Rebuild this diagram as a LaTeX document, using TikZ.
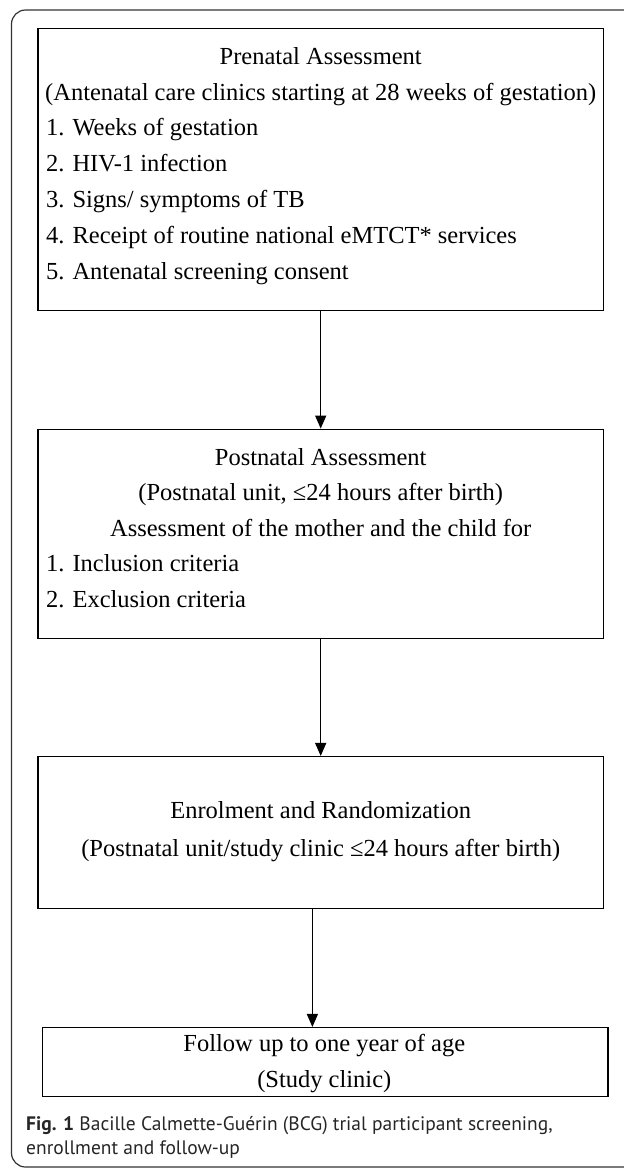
\documentclass[tikz,border=0pt]{standalone}
\usepackage{fontspec}
\setmainfont{Liberation Serif}
\newfontfamily\capfont{PT Sans}
\usetikzlibrary{arrows.meta}
\begin{document}
\begin{tikzpicture}[x=1pt,y=-1pt,
  boxnode/.style={draw,line width=1.5pt,rectangle,inner sep=0pt,minimum width=565.8pt},
  txt/.style={inner sep=0pt,font=\fontsize{24.5}{28}\selectfont,anchor=base},
  ltxt/.style={txt,anchor=base west},
  arr/.style={line width=1.4pt,-{Triangle[length=13pt,width=11pt]}},
  captxt/.style={inner sep=0pt,anchor=base west,font=\capfont\fontsize{19.5}{22}\selectfont,text=black!85}]
\useasboundingbox (0,0) rectangle (624,1168);
\draw[line width=1.2pt,black!80,rounded corners=14pt] (650,10) -- (11.5,10) -- (11.5,1167) -- (650,1167);
% box 1
\node[boxnode,minimum height=282.4pt] (box1) at (320.7,169.5) {};
\node[txt] (b1a) at (320.7,64.4) {Prenatal Assessment};
\node[txt] (b1b) at (320.7,100) {(Antenatal care clinics starting at 28 weeks of gestation)};
\node[ltxt] (b1c) at (45.8,135.8) {1. Weeks of gestation};
\node[ltxt] (b1d) at (45.8,171.6) {2. HIV-1 infection};
\node[ltxt] (b1e) at (45.8,207.4) {3. Signs/ symptoms of TB};
\node[ltxt] (b1f) at (45.8,243.2) {4. Receipt of routine national eMTCT* services};
\node[ltxt] (b1g) at (45.8,279) {5. Antenatal screening consent};
% box 2
\node[boxnode,minimum height=209pt] (box2) at (320.7,533.8) {};
\node[txt] (b2a) at (320.7,465) {Postnatal Assessment};
\node[txt] (b2b) at (320.7,500.7) {(Postnatal unit, ≤24 hours after birth)};
\node[txt] (b2c) at (320.7,536) {Assessment of the mother and the child for};
\node[ltxt] (b2d) at (45.8,571.7) {1. Inclusion criteria};
\node[ltxt] (b2e) at (45.8,607.5) {2. Exclusion criteria};
% box 3
\node[boxnode,minimum height=151.6pt] (box3) at (320.7,832.5) {};
\node[txt] (b3a) at (320.7,818) {Enrolment and Randomization};
\node[txt] (b3b) at (320.7,856.5) {(Postnatal unit/study clinic ≤24 hours after birth)};
% box 4
\node[boxnode,minimum width=565.4pt,minimum height=69pt] (box4) at (325.3,1062.2) {};
\node[txt] (b4a) at (324.3,1051.7) {Follow up to one year of age};
\node[txt] (b4b) at (324.3,1087) {(Study clinic)};
% arrows
\draw[arr] (box1.south) -- (box2.north);
\draw[arr] (box2.south) -- (box3.north);
\draw[arr] ([xshift=-8.3pt]box3.south) -- ([xshift=-8.3pt]box3.south |- box4.north);
% caption
\node[captxt] (cap1) at (26,1130) {\textbf{Fig. 1} Bacille Calmette-Guérin (BCG) trial participant screening,};
\node[captxt] (cap2) at (26,1154) {enrollment and follow-up};
\end{tikzpicture}
\end{document}
